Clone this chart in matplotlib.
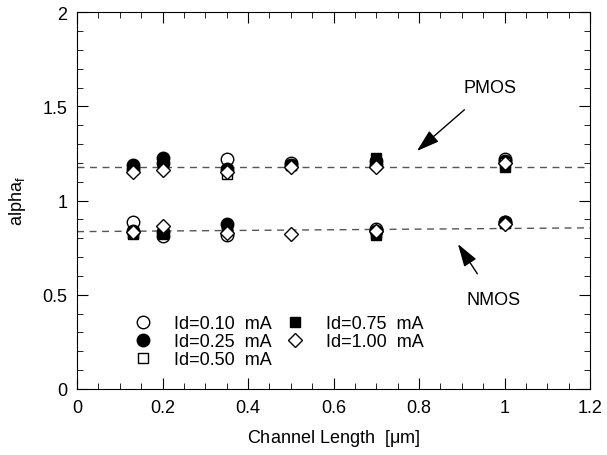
import numpy as np
import matplotlib.pyplot as plt
from matplotlib.ticker import MultipleLocator

plt.rcParams['font.family'] = ['Liberation Sans', 'DejaVu Sans']
plt.rcParams['mathtext.fontset'] = 'custom'
plt.rcParams['mathtext.rm'] = 'Liberation Sans'
plt.rcParams['mathtext.it'] = 'Liberation Sans'

nan = np.nan
L = [0.13, 0.2, 0.35, 0.5, 0.7, 1.0]

# PMOS alpha_f for each drain current
pmos_010 = [1.17, 1.20, 1.22, 1.20, 1.19, 1.22]
pmos_025 = [1.19, 1.225, 1.17, 1.19, 1.21, 1.21]
pmos_050 = [1.17, 1.19, 1.14, 1.19, 1.20, 1.20]
pmos_075 = [1.17, 1.20, 1.16, 1.19, 1.225, 1.18]
pmos_100 = [1.15, 1.16, 1.15, 1.18, 1.18, 1.20]

# NMOS alpha_f
nmos_010 = [0.886, 0.813, 0.815, nan, 0.85, 0.885]
nmos_025 = [0.84, 0.833, 0.875, nan, 0.84, 0.888]
nmos_050 = [0.83, 0.82, 0.85, nan, 0.83, 0.88]
nmos_075 = [0.82, 0.83, 0.845, nan, 0.815, 0.88]
nmos_100 = [0.833, 0.866, 0.83, 0.82, 0.84, 0.875]

# reference lines
fit_x = [0, 1.2]
pmos_fit = [1.18, 1.18]
nmos_fit = [0.835, 0.855]

labels = ['Id=0.10  mA', 'Id=0.25  mA', 'Id=0.50  mA', 'Id=0.75  mA', 'Id=1.00  mA']
styles = [
    dict(marker='o', mfc='white', mec='black', ms=9),
    dict(marker='o', mfc='black', mec='black', ms=9),
    dict(marker='s', mfc='white', mec='black', ms=7),
    dict(marker='s', mfc='black', mec='black', ms=7),
    dict(marker='D', mfc='white', mec='black', ms=7),
]
pmos = [pmos_010, pmos_025, pmos_050, pmos_075, pmos_100]
nmos = [nmos_010, nmos_025, nmos_050, nmos_075, nmos_100]

fig = plt.figure(figsize=(6.07, 4.56), dpi=100)
ax = fig.add_axes([0.127, 0.145, 0.845, 0.826])

ax.plot(fit_x, pmos_fit, color='#555555', ls=(0, (5, 4)), lw=1)
ax.plot(fit_x, nmos_fit, color='#555555', ls=(0, (5, 4)), lw=1)

for lab, st, p, n in zip(labels, styles, pmos, nmos):
    ax.plot(L, p, ls='none', mew=1, label=lab, **st)
    ax.plot(L, n, ls='none', mew=1, **st)

arrow = dict(arrowstyle='-|>,head_length=0.7,head_width=0.22', color='black',
             lw=1, mutation_scale=20, shrinkA=12, shrinkB=0)
ax.annotate('PMOS', xy=(0.795, 1.263), xytext=(0.966, 1.60), fontsize=13,
            ha='center', va='center', arrowprops=arrow)
ax.annotate('NMOS', xy=(0.891, 0.769), xytext=(0.975, 0.477), fontsize=13,
            ha='center', va='center', arrowprops=arrow)

ax.set_xlim(0, 1.2)
ax.set_ylim(0, 2)
ax.xaxis.set_minor_locator(MultipleLocator(0.05))
ax.yaxis.set_minor_locator(MultipleLocator(0.1))
ax.set_xticks([0, 0.2, 0.4, 0.6, 0.8, 1.0, 1.2], ['0', '0.2', '0.4', '0.6', '0.8', '1', '1.2'])
ax.set_yticks([0, 0.5, 1, 1.5, 2], ['0', '0.5', '1', '1.5', '2'])
ax.tick_params(which='both', direction='in', top=True, right=True, labelsize=13, pad=7)
ax.tick_params(which='major', length=8)
ax.tick_params(which='minor', length=4)

ax.set_xlabel('Channel Length  [$\\mu$m]', fontsize=13, labelpad=8)
ax.set_ylabel('alpha$_f$', fontsize=13, labelpad=10)

ax.legend(ncol=2, loc='lower left', bbox_to_anchor=(0.07, 0.012), frameon=False,
          fontsize=13, handletextpad=1.0, columnspacing=0.5, labelspacing=0.05,
          handlelength=1.5)

fig.savefig('out.png', dpi=100)
